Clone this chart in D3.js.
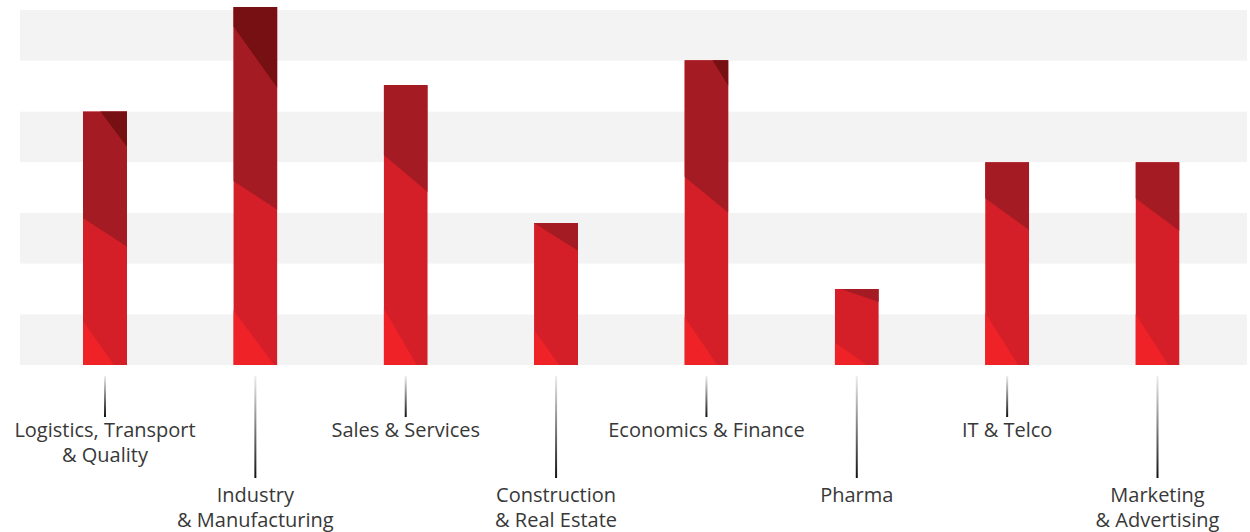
<!DOCTYPE html>
<html>
<head>
<meta charset="utf-8">
<script src="https://cdn.jsdelivr.net/npm/d3@7"></script>
<style>
  body { margin: 0; background: #fff; }
  svg text { font-family: "Open Sans", sans-serif; }
</style>
</head>
<body>
<svg id="chart" width="1250" height="532"></svg>
<script>
// categories, two label lines each
const categories = ["Logistics", "Industry", "Sales", "Construction", "Economics", "Pharma", "IT", "Marketing"];
const labelLines = [
    ["Logistics, Transport", "& Quality"],
    ["Industry", "& Manufacturing"],
    ["Sales & Services"],
    ["Construction", "& Real Estate"],
    ["Economics & Finance"],
    ["Pharma"],
    ["IT & Telco"],
    ["Marketing", "& Advertising"]
];
const values = [5.0, 7.06, 5.52, 2.8, 6.01, 1.5, 4.0, 4.0];

// diagonal splits inside each bar, value at left edge / right edge
const lightLeft  = [0.87, 1.08, 1.12, 0.69, 0.95, 0.45, 1.03, 1.01];
const lightRight = [-0.36, -0.08, -0.37, -0.52, -0.32, -0.17, -0.34, -0.34];
const darkLeft   = [2.90, 3.63, 4.14, 2.80, 3.71, 1.54, 3.29, 3.29];
const darkRight  = [2.33, 3.06, 3.41, 2.25, 3.00, 1.24, 2.66, 2.64];
const darkestLeft  = [5.46, 6.68, null, null, 6.91, null, null, null];
const darkestRight = [4.30, 5.46, null, null, 5.50, null, null, null];

const longTick = [false, true, false, true, false, true, false, true];

const svg = d3.select("#chart");

const x = d3.scalePoint().domain(categories).range([105, 1157.5]);
const y = d3.scaleLinear().domain([0, 7]).range([365, 10]);
const barW = 44;

/** background bands */
svg.append("g")
  .selectAll("rect")
  .data(d3.range(7))
  .join("rect")
  .attr("x", 20)
  .attr("width", 1227)
  .attr("y", d => y(d + 1))
  .attr("height", d => y(d) - y(d + 1))
  .attr("fill", d => d % 2 == 0 ? "#f3f3f3" : "#fff");

const defs = svg.append("defs");

const grad = defs.append("linearGradient")
  .attr("id", "tickGrad")
  .attr("x1", 0).attr("y1", 0).attr("x2", 0).attr("y2", 1);
grad.append("stop").attr("offset", "0%").attr("stop-color", "#eeeeee");
grad.append("stop").attr("offset", "100%").attr("stop-color", "#111111");

const rows = categories.map((c, i) => ({
    key: c, i: i, value: values[i],
    lightL: lightLeft[i], lightR: lightRight[i],
    darkL: darkLeft[i], darkR: darkRight[i],
    darkestL: darkestLeft[i], darkestR: darkestRight[i]
}));

defs.selectAll("clipPath")
  .data(rows)
  .join("clipPath")
  .attr("id", d => "clip" + d.i)
  .append("rect")
  .attr("x", d => x(d.key) - barW / 2)
  .attr("width", barW)
  .attr("y", d => y(d.value))
  .attr("height", d => y(0) - y(d.value));

// polygon above (up=true) or below a line across the bar
function piece(d, hL, hR, up) {
    const x0 = x(d.key) - barW / 2, x1 = x0 + barW;
    const far = up ? y(9) : y(-2);
    return [[x0, y(hL)], [x1, y(hR)], [x1, far], [x0, far]].map(p => p.join(",")).join(" ");
}

const bars = svg.append("g")
  .selectAll("g")
  .data(rows)
  .join("g")
  .attr("clip-path", d => "url(#clip" + d.i + ")");

bars.append("rect")
  .attr("x", d => x(d.key) - barW / 2)
  .attr("width", barW)
  .attr("y", d => y(d.value))
  .attr("height", d => y(0) - y(d.value))
  .attr("fill", "#d41f29");

bars.append("polygon")
  .attr("points", d => piece(d, d.lightL, d.lightR, false))
  .attr("fill", "#ee2227");

bars.append("polygon")
  .attr("points", d => piece(d, d.darkL, d.darkR, true))
  .attr("fill", "#a51b23");

bars.filter(d => d.darkestL != null)
  .append("polygon")
  .attr("points", d => piece(d, d.darkestL, d.darkestR, true))
  .attr("fill", "#761012");

/** ticks and labels */
const ticks = svg.append("g")
  .selectAll("g")
  .data(rows)
  .join("g")
  .attr("transform", d => "translate(" + x(d.key) + ",0)");

ticks.append("rect")
  .attr("x", -1)
  .attr("width", 2)
  .attr("y", 376)
  .attr("height", d => longTick[d.i] ? 102 : 41)
  .attr("fill", "url(#tickGrad)");

ticks.append("text")
  .attr("text-anchor", "middle")
  .attr("font-size", "20px")
  .attr("fill", "#383838")
  .selectAll("tspan")
  .data(d => labelLines[d.i].map(t => ({ t: t, long: longTick[d.i] })))
  .join("tspan")
  .attr("x", 0)
  .attr("y", (d, j) => (d.long ? 502 : 437) + j * 25)
  .text(d => d.t);
</script>
</body>
</html>
